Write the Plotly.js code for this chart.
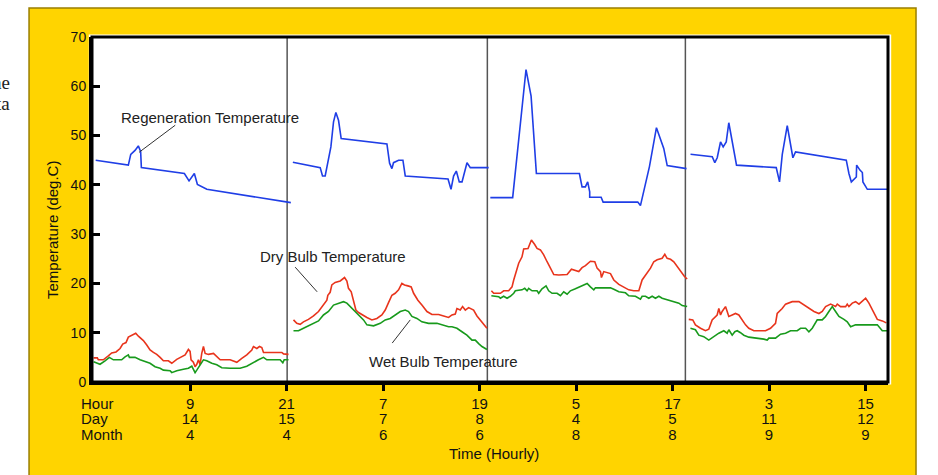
<!DOCTYPE html>
<html><head><meta charset="utf-8">
<script src="https://cdn.plot.ly/plotly-3.0.1.min.js"></script>
<style>html,body{margin:0;padding:0;background:#fff;} #chart{width:938px;height:475px;}</style>
</head><body><div id="chart"></div>
<script>
// x = hourly record index, y = temperature (deg.C); one inner array per recording period
const regenHour = [
  [0.26, 4.32, 4.62, 5.15, 5.56, 5.85, 5.94, 11.29, 11.87, 12.53, 12.91, 14.08, 24.53],
  [24.78, 28.18, 28.47, 28.80, 29.51, 29.84, 30.13, 30.46, 30.79, 36.48, 36.81, 37.10, 37.30, 37.93, 38.47, 38.76, 44.08, 44.45, 44.77, 45.11, 45.48, 45.82, 46.44, 46.85, 49.13],
  [49.34, 52.12, 53.78, 54.41, 55.07, 60.42, 60.75, 61.16, 61.45, 61.70, 61.70, 63.12, 63.37, 67.68, 68.01, 69.13, 70.00, 70.91, 71.34, 73.74],
  [74.24, 76.94, 77.26, 77.56, 77.97, 78.30, 78.68, 79.00, 79.96, 84.90, 85.31, 85.65, 86.27, 86.68, 86.97, 87.30, 93.61, 93.94, 94.24, 94.86, 94.90, 95.31, 95.61, 95.68, 96.23, 98.79]
];
const regenTemp = [
  [45.0, 44.0, 46.2, 47.0, 47.9, 46.8, 43.5, 42.3, 40.8, 42.3, 40.1, 39.1, 36.4],
  [44.6, 43.5, 41.8, 41.8, 47.7, 52.8, 54.7, 53.1, 49.4, 48.3, 44.4, 43.3, 44.5, 45.0, 45.0, 41.8, 41.2, 39.1, 41.8, 42.8, 40.6, 40.6, 44.5, 43.5, 43.5],
  [37.4, 37.4, 63.4, 58.0, 42.3, 42.3, 39.6, 39.6, 40.6, 38.6, 37.5, 37.5, 36.5, 36.5, 35.8, 43.7, 51.6, 47.4, 43.9, 43.3],
  [46.2, 45.7, 44.5, 45.5, 48.7, 47.7, 48.7, 52.6, 44.0, 43.5, 40.6, 46.2, 52.0, 48.1, 45.5, 46.7, 45.0, 42.3, 40.6, 41.6, 44.0, 43.0, 42.5, 40.6, 39.1, 39.1]
];
const dryHour = [
  [0, 0.46, 0.59, 1.21, 1.83, 2.25, 2.79, 3.29, 3.62, 4.03, 4.32, 4.74, 5.24, 5.57, 6.19, 6.61, 7.02, 7.44, 7.85, 8.27, 8.68, 9.30, 9.72, 10.34, 10.96, 11.38, 11.79, 12.0, 12.12, 12.41, 12.62, 12.83, 13.04, 13.24, 13.45, 13.66, 13.87, 14.28, 14.91, 15.32, 15.74, 16.98, 17.81, 18.43, 19.05, 19.68, 19.88, 20.30, 20.63, 20.92, 21.13, 21.96, 23.41, 23.62, 24.24],
  [24.86, 25.27, 25.69, 26.10, 26.72, 27.35, 27.97, 28.59, 29.01, 29.13, 29.42, 29.63, 30.04, 30.67, 31.21, 31.50, 31.70, 32.04, 32.33, 32.62, 32.95, 33.45, 33.99, 34.61, 35.23, 35.85, 36.27, 36.68, 37.10, 37.51, 37.93, 38.34, 38.67, 39.09, 39.50, 39.80, 40.33, 40.83, 41.46, 42.08, 42.91, 43.53, 44.15, 44.57, 44.98, 45.19, 45.60, 45.89, 46.23, 46.64, 47.26, 47.68, 48.30, 48.92],
  [49.47, 49.76, 50.59, 51.00, 51.62, 52.04, 52.25, 52.54, 52.87, 53.28, 53.49, 54.03, 54.45, 54.86, 55.15, 55.57, 55.98, 56.40, 56.81, 57.23, 57.85, 58.89, 59.43, 59.92, 60.34, 60.75, 61.17, 61.79, 62.33, 62.62, 63.04, 63.16, 63.45, 64.28, 64.70, 65.32, 65.94, 66.56, 67.18, 67.81, 68.22, 68.64, 69.26, 69.67, 70.09, 70.71, 71.04, 71.33, 71.75, 72.16, 72.58, 72.99, 73.49, 73.82],
  [74.02, 74.52, 74.85, 75.48, 76.10, 76.51, 76.93, 77.55, 77.76, 77.97, 78.17, 78.59, 78.80, 79.00, 79.42, 79.83, 80.25, 80.66, 81.08, 81.49, 82.12, 82.53, 83.57, 84.19, 84.81, 85.02, 85.64, 86.06, 86.89, 87.72, 88.34, 88.96, 89.59, 90.21, 90.62, 91.04, 91.66, 92.28, 92.49, 92.90, 93.53, 93.73, 93.94, 94.36, 94.77, 95.19, 95.60, 96.02, 96.43, 96.85, 97.47, 98.09, 98.59]
];
const dryTemp = [
  [4.9, 4.9, 4.5, 4.5, 5.3, 5.9, 6.1, 6.8, 7.7, 8.0, 9.1, 9.5, 9.9, 9.3, 8.4, 7.5, 6.5, 6.0, 5.6, 5.0, 4.3, 4.3, 3.8, 4.6, 5.1, 5.5, 6.6, 6.2, 4.5, 4.0, 3.1, 3.6, 4.5, 3.5, 5.8, 7.2, 5.8, 5.6, 5.8, 5.1, 4.5, 4.5, 4.0, 4.8, 5.5, 6.5, 7.2, 6.8, 7.2, 7.0, 6.0, 6.0, 6.0, 5.7, 5.6],
  [12.6, 11.9, 11.7, 12.2, 12.7, 13.4, 14.3, 15.6, 16.6, 17.6, 18.2, 19.7, 20.2, 20.5, 21.2, 20.5, 19.0, 18.3, 16.6, 14.6, 14.1, 13.7, 13.1, 12.6, 12.9, 13.6, 14.6, 16.1, 17.6, 18.0, 18.7, 20.0, 19.7, 19.5, 19.3, 18.0, 16.6, 15.6, 14.3, 13.7, 13.7, 13.4, 13.1, 13.6, 13.8, 14.9, 14.6, 15.3, 14.6, 15.1, 14.6, 13.4, 12.2, 10.9],
  [18.5, 18.0, 18.0, 18.5, 18.5, 19.3, 20.7, 22.4, 24.1, 25.4, 27.0, 27.1, 28.8, 27.9, 27.1, 26.8, 25.8, 24.4, 23.1, 21.8, 21.7, 21.8, 22.9, 22.7, 22.4, 23.2, 23.6, 24.5, 24.4, 23.1, 22.4, 21.2, 22.4, 22.0, 20.7, 19.8, 19.3, 18.7, 18.5, 18.5, 20.7, 21.7, 23.1, 24.4, 24.8, 25.1, 25.9, 25.1, 24.9, 24.4, 23.4, 22.4, 21.4, 20.9],
  [12.7, 12.6, 11.6, 10.9, 10.4, 10.7, 12.6, 13.6, 14.9, 13.6, 14.3, 15.3, 14.3, 13.3, 13.6, 13.9, 13.6, 12.6, 11.6, 10.9, 10.4, 10.4, 10.4, 10.9, 11.9, 13.9, 14.9, 15.8, 16.3, 16.3, 15.6, 14.9, 14.3, 13.9, 14.3, 15.3, 15.8, 15.3, 15.8, 15.3, 15.3, 15.8, 15.3, 16.0, 16.3, 15.8, 16.5, 17.0, 16.0, 14.6, 12.7, 12.4, 12.0]
];
const wetHour = [
  [0, 0.38, 0.80, 1.42, 1.96, 2.46, 3.49, 3.91, 4.32, 4.45, 5.15, 5.78, 6.40, 7.02, 7.64, 8.27, 8.68, 9.51, 9.72, 10.34, 11.17, 11.79, 12.21, 12.41, 12.62, 12.83, 13.24, 13.66, 14.07, 14.70, 15.32, 15.94, 16.98, 18.22, 19.05, 19.88, 20.50, 21.13, 21.54, 23.20, 23.53, 23.70, 24.24],
  [24.86, 25.48, 26.10, 26.72, 27.35, 27.97, 28.59, 29.21, 29.84, 30.46, 31.08, 31.50, 31.91, 32.33, 32.95, 33.57, 33.99, 34.82, 35.65, 36.27, 36.89, 37.51, 38.14, 38.76, 39.17, 39.59, 40.21, 40.83, 41.66, 42.70, 43.32, 44.15, 44.57, 45.19, 45.81, 46.43, 47.06, 47.47, 47.89, 48.30, 48.92],
  [49.47, 50.38, 50.59, 51.00, 51.42, 51.83, 52.25, 52.45, 53.28, 53.62, 53.91, 54.11, 54.53, 55.15, 55.36, 55.77, 56.27, 56.60, 57.02, 57.64, 58.06, 58.47, 58.89, 59.30, 59.92, 60.75, 61.38, 61.79, 62.21, 62.41, 63.24, 64.28, 64.70, 65.32, 66.15, 66.56, 67.39, 68.01, 68.22, 68.64, 69.05, 69.47, 69.88, 70.30, 70.71, 71.13, 71.75, 72.16, 72.79, 73.20, 73.82],
  [74.23, 74.85, 75.27, 75.89, 76.51, 77.14, 77.76, 78.38, 78.80, 79.00, 79.42, 79.75, 80.04, 80.46, 80.87, 81.49, 82.53, 83.36, 83.78, 83.98, 84.81, 85.44, 86.06, 86.68, 87.51, 87.93, 88.55, 88.96, 89.38, 90.00, 90.62, 91.04, 91.45, 91.87, 92.28, 92.70, 93.32, 93.73, 94.15, 94.77, 95.60, 97.47, 98.09, 98.71]
];
const wetTemp = [
  [4.1, 3.8, 3.6, 4.3, 5.0, 4.5, 4.5, 5.1, 5.5, 5.0, 5.0, 4.5, 4.1, 3.8, 3.1, 2.8, 2.4, 2.3, 1.9, 2.3, 2.6, 2.8, 3.2, 2.4, 1.9, 2.4, 3.5, 4.5, 4.3, 3.8, 3.5, 2.9, 2.8, 2.8, 3.2, 4.0, 4.5, 5.0, 4.5, 4.5, 3.9, 4.5, 4.5],
  [10.4, 10.4, 10.9, 11.4, 11.9, 12.4, 13.6, 14.3, 15.6, 16.0, 16.3, 16.0, 15.3, 14.6, 13.6, 12.6, 11.6, 11.4, 11.9, 12.6, 12.9, 13.6, 14.3, 14.6, 14.3, 13.3, 12.9, 12.2, 11.9, 11.9, 11.6, 11.2, 11.2, 10.9, 10.2, 9.5, 8.5, 8.5, 7.8, 7.2, 6.6],
  [17.5, 17.3, 17.0, 17.4, 17.0, 17.4, 18.0, 18.5, 18.7, 19.0, 18.5, 19.0, 18.5, 18.5, 18.0, 18.9, 19.5, 18.5, 18.0, 18.0, 17.5, 18.3, 17.8, 18.5, 18.9, 19.5, 20.0, 19.3, 18.7, 19.1, 19.1, 19.1, 18.8, 18.3, 18.1, 17.5, 17.4, 16.8, 17.4, 17.4, 17.0, 17.4, 17.0, 17.4, 17.0, 16.8, 16.4, 16.2, 16.0, 15.5, 15.3],
  [10.9, 10.6, 9.5, 9.2, 8.5, 9.2, 9.9, 10.4, 9.9, 10.6, 9.5, 10.2, 10.4, 10.0, 9.5, 9.1, 8.9, 8.7, 8.5, 8.9, 8.9, 9.7, 9.9, 10.4, 10.4, 10.9, 10.9, 10.2, 10.9, 12.6, 12.6, 13.3, 14.3, 15.3, 14.3, 13.3, 12.7, 12.2, 11.2, 11.6, 11.6, 11.6, 10.4, 10.4]
];
// axis ticks (every 12 records) and period boundaries
const tickIndex = [12, 24, 36, 48, 60, 72, 84, 96];
const tickHour  = ["9", "21", "7", "19", "5", "17", "3", "15"];
const tickDay   = ["14", "15", "7", "8", "4", "5", "11", "12"];
const tickMonth = ["4", "4", "6", "6", "8", "8", "9", "9"];
const periodBreaks = [24.07, 48.97, 73.6];

function joinSegs(segs) {
  const out = [];
  segs.forEach((s, i) => { if (i) out.push(null); out.push(...s); });
  return out;
}

const FONT = 'Liberation Sans, Arial, sans-serif';
const traces = [
  {x: joinSegs(regenHour), y: joinSegs(regenTemp), mode: 'lines', line: {color: '#1f3ee6', width: 1.6}, connectgaps: false, hoverinfo: 'skip'},
  {x: joinSegs(dryHour), y: joinSegs(dryTemp), mode: 'lines', line: {color: '#e8341c', width: 1.6}, connectgaps: false, hoverinfo: 'skip'},
  {x: joinSegs(wetHour), y: joinSegs(wetTemp), mode: 'lines', line: {color: '#189a1c', width: 1.6}, connectgaps: false, hoverinfo: 'skip'},
  {x: [], y: [], xaxis: 'x2', yaxis: 'y', hoverinfo: 'skip'},
  {x: [], y: [], xaxis: 'x3', yaxis: 'y', hoverinfo: 'skip'}
];

const xr = [-0.2, 98.8];
const rowAxis = (text, standoff) => ({
  overlaying: 'x', anchor: 'y', side: 'bottom', range: xr,
  tickmode: 'array', tickvals: tickIndex, ticktext: text,
  ticks: '', showline: false, showgrid: false, zeroline: false,
  ticklabelstandoff: standoff,
  tickfont: {family: FONT, size: 15, color: '#111'}
});

const shapes = [
  // yellow panel
  {type: 'rect', xref: 'paper', yref: 'paper', x0: -0.0791, x1: 1.0352, y0: -0.30, y1: 1.084,
   fillcolor: '#ffd400', line: {color: '#9a7f00', width: 1.5}, layer: 'below'},
  // white plot area with white halo
  {type: 'rect', xref: 'paper', yref: 'paper', x0: -0.004, x1: 1.004, y0: -0.007, y1: 1.007,
   fillcolor: '#ffffff', line: {width: 0}, layer: 'below'}
];
periodBreaks.forEach(b => shapes.push({type: 'line', xref: 'x', yref: 'paper', x0: b, x1: b, y0: 0, y1: 1,
  line: {color: '#555', width: 1.5}, layer: 'below'}));
shapes.push({type: 'rect', xref: 'paper', yref: 'paper', x0: 0, x1: 1, y0: 0, y1: 1,
  line: {color: '#000', width: 3}, layer: 'above'});
// leader lines for labels
const leaders = [
  [10.15, 52.1, 5.65, 46.6],
  [25.07, 23.3, 27.80, 18.3],
  [37.14, 7.9, 39.38, 12.6]
];
leaders.forEach(l => shapes.push({type: 'line', xref: 'x', yref: 'y', x0: l[0], y0: l[1], x1: l[2], y1: l[3],
  line: {color: '#333', width: 1}}));

const txt = (t, x, y, opts) => Object.assign({text: t, x: x, y: y, showarrow: false,
  xanchor: 'center', yanchor: 'middle',
  font: {family: FONT, size: 15, color: '#222'}}, opts || {});
const dark = {family: FONT, size: 15, color: '#111'};
const serif = {family: 'Liberation Serif, serif', size: 19, color: '#222'};

const annotations = [
  txt('Regeneration Temperature', 14.49, 53.75, {xref: 'x', yref: 'y'}),
  txt('Dry Bulb Temperature', 29.82, 25.56, {xref: 'x', yref: 'y'}),
  txt('Wet Bulb Temperature', 43.55, 4.06, {xref: 'x', yref: 'y'}),
  txt('Hour', -0.0163, -0.0609, {xref: 'paper', yref: 'paper', xanchor: 'left', font: dark}),
  txt('Day', -0.0163, -0.1072, {xref: 'paper', yref: 'paper', xanchor: 'left', font: dark}),
  txt('Month', -0.0163, -0.1536, {xref: 'paper', yref: 'paper', xanchor: 'left', font: dark}),
  txt('Time (Hourly)', 0.505, -0.2058, {xref: 'paper', yref: 'paper', font: dark}),
  txt('Temperature (deg.C)', -0.049, 0.4406, {xref: 'paper', yref: 'paper', textangle: -90, font: dark}),
  txt('he', -0.1005, 0.868, {xref: 'paper', yref: 'paper', xanchor: 'right', font: serif}),
  txt('ta', -0.1005, 0.807, {xref: 'paper', yref: 'paper', xanchor: 'right', font: serif})
];

const layout = {
  width: 938, height: 475,
  margin: {l: 92, r: 50, t: 37, b: 93},
  paper_bgcolor: '#ffffff', plot_bgcolor: '#ffffff',
  showlegend: false,
  font: {family: FONT, size: 15, color: '#111'},
  xaxis: {
    range: xr, tickmode: 'array', tickvals: tickIndex, ticktext: tickHour,
    ticks: 'outside', ticklen: 6, tickwidth: 3, tickcolor: '#000',
    showline: true, linewidth: 3, linecolor: '#000',
    showgrid: false, zeroline: false,
    tickfont: {family: FONT, size: 15, color: '#111'}
  },
  xaxis2: rowAxis(tickDay, 26),
  xaxis3: rowAxis(tickMonth, 42),
  yaxis: {
    range: [0, 70], dtick: 10, tick0: 0,
    ticks: 'inside', ticklen: 8, tickwidth: 3, tickcolor: '#000',
    showline: true, linewidth: 3, linecolor: '#000',
    showgrid: false, zeroline: false,
    tickfont: {family: FONT, size: 14, color: '#111'}
  },
  shapes: shapes,
  annotations: annotations
};

Plotly.newPlot('chart', traces, layout, {staticPlot: true, displayModeBar: false});
</script></body></html>
